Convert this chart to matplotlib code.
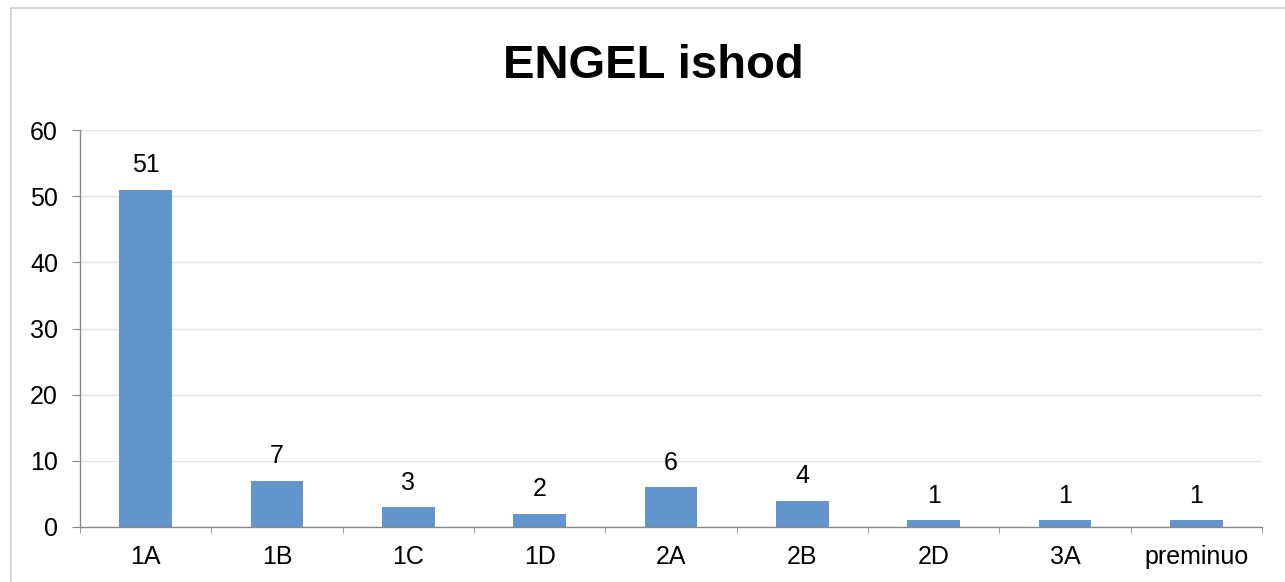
import matplotlib
matplotlib.use("Agg")
import matplotlib.pyplot as plt
from matplotlib.patches import Rectangle

categories = ["1A", "1B", "1C", "1D", "2A", "2B", "2D", "3A", "preminuo"]
values = [51, 7, 3, 2, 6, 4, 1, 1, 1]
yticks = [0, 10, 20, 30, 40, 50, 60]
title = "ENGEL ishod"

plt.rcParams['font.family'] = ['Liberation Sans', 'DejaVu Sans']

W, H = 1285, 582
fig = plt.figure(figsize=(W / 100, H / 100), dpi=100)
fig.patch.set_facecolor("white")

# outer chart frame (left and top edges visible)
fig.add_artist(Rectangle((11 / W, -0.1), 1.2, (H - 8) / H + 0.1, transform=fig.transFigure,
                         fill=False, edgecolor="#CFCFCF", linewidth=1.2))

ax = fig.add_axes([80 / W, 1 - 527 / H, (1262 - 80) / W, (527 - 130) / H])
x = list(range(len(categories)))
bars = ax.bar(x, values, width=0.4, color="#6195CB", zorder=3)

ax.set_xlim(-0.5, len(categories) - 0.5)
ax.set_ylim(0, 60)
ax.set_yticks(yticks)
ax.set_yticklabels([str(t) for t in yticks], fontsize=18)
ax.set_xticks(x)
ax.set_xticklabels(categories, fontsize=18)
ax.tick_params(axis='x', length=0, pad=13)
ax.set_xticks([i - 0.5 for i in range(len(categories) + 1)], minor=True)
ax.tick_params(axis='x', which='minor', length=4.5, color="#888888", direction='out')
ax.tick_params(axis='y', length=5.8, color="#888888", pad=10)

ax.grid(axis='y', color="#E4E4E4", linewidth=1, zorder=0)
for s in ["top", "right"]:
    ax.spines[s].set_visible(False)
for s in ["left", "bottom"]:
    ax.spines[s].set_color("#888888")
    ax.spines[s].set_linewidth(1)
ax.spines["bottom"].set_zorder(4)

for xi, v in zip(x, values):
    ax.annotate(str(v), (xi, v), xytext=(0, 9), textcoords="offset points",
                ha="center", va="bottom", fontsize=18)

fig.text(653 / W, 1 - 66 / H, title, ha="center", va="center", fontsize=34, fontweight="bold")

fig.savefig("out.png", dpi=100, facecolor="white")
